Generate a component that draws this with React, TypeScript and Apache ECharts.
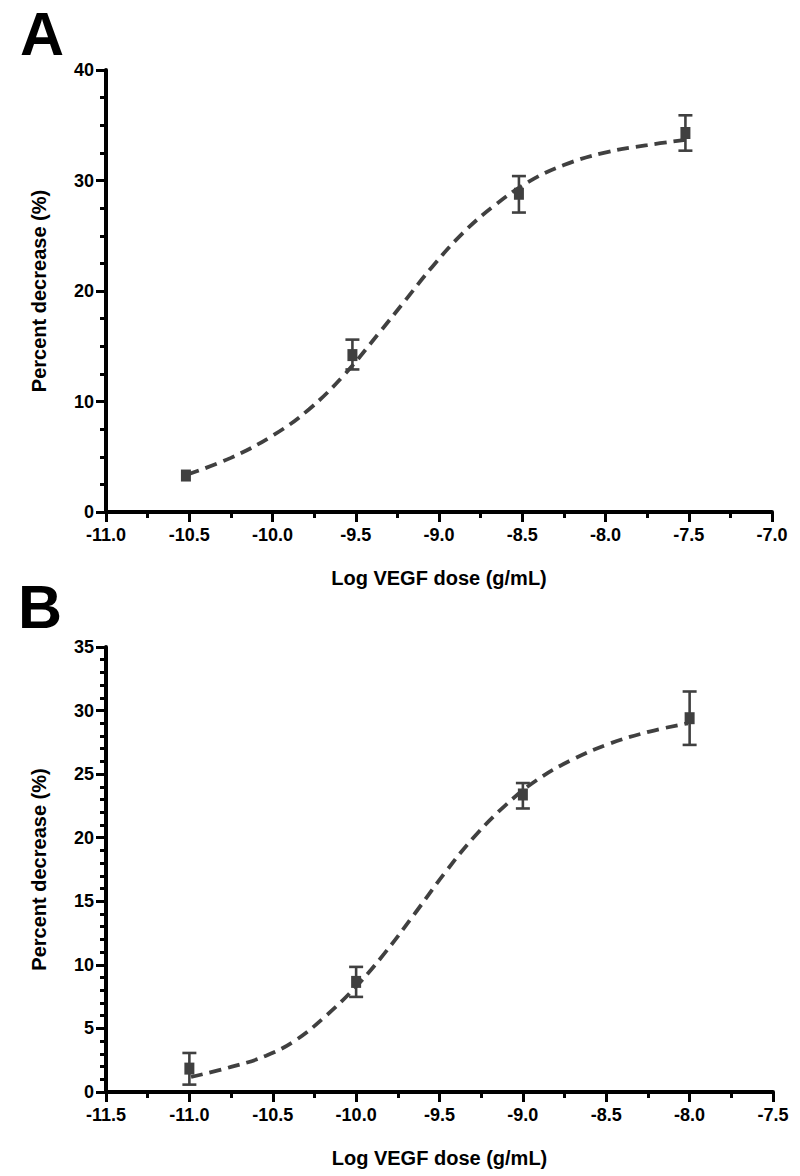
import React, { useEffect, useRef } from "react";
import * as echarts from "echarts";

// Panel A data
const A_X = [-10.52, -9.52, -8.52, -7.52];
const A_MEAN = [3.3, 14.2, 28.8, 34.3];
const A_LOW = [null, 12.9, 27.1, 32.7];
const A_HIGH = [null, 15.6, 30.4, 35.9];
const A_CURVE_X = [-10.51, -10.25, -9.99, -9.78, -9.57, -9.36, -9.2, -9.04, -8.86, -8.67, -8.46, -8.25, -8.01, -7.75, -7.51];
const A_CURVE_Y = [3.4, 4.9, 7.0, 9.3, 12.4, 16.2, 19.2, 22.2, 25.2, 27.7, 29.9, 31.4, 32.5, 33.2, 33.7];

// Panel B data
const B_X = [-11.0, -10.0, -9.0, -8.0];
const B_MEAN = [1.84, 8.66, 23.4, 29.4];
const B_LOW = [0.58, 7.48, 22.3, 27.3];
const B_HIGH = [3.07, 9.84, 24.3, 31.5];
const B_CURVE_X = [-10.99, -10.75, -10.54, -10.36, -10.18, -10.0, -9.83, -9.65, -9.47, -9.29, -9.1, -8.92, -8.71, -8.48, -8.24, -8.01];
const B_CURVE_Y = [1.18, 1.97, 2.85, 4.1, 6.0, 8.3, 10.9, 14.0, 17.2, 20.1, 22.6, 24.5, 26.1, 27.4, 28.35, 29.0];

const X_NAME = "Log VEGF dose (g/mL)";
const Y_NAME = "Percent decrease (%)";
const PANEL_LABELS = ["A", "B"];

const FONT = "'Liberation Sans', Arial, sans-serif";
const INK = "#404040";

function errorRenderer(params: any, api: any) {
  const x = api.value(0);
  const lo = api.value(1);
  const hi = api.value(2);
  const pLo = api.coord([x, lo]);
  const pHi = api.coord([x, hi]);
  const half = 7;
  const style = { stroke: INK, lineWidth: 2.6, fill: "none" };
  return {
    type: "group",
    children: [
      { type: "line", shape: { x1: pLo[0], y1: pLo[1], x2: pHi[0], y2: pHi[1] }, style },
      { type: "line", shape: { x1: pLo[0] - half, y1: pLo[1], x2: pLo[0] + half, y2: pLo[1] }, style },
      { type: "line", shape: { x1: pHi[0] - half, y1: pHi[1], x2: pHi[0] + half, y2: pHi[1] }, style },
    ],
  };
}

function xAxisCfg(gridIndex: number, min: number, max: number) {
  return {
    type: "value",
    gridIndex,
    min,
    max,
    interval: 0.5,
    name: X_NAME,
    nameLocation: "middle",
    nameGap: 56,
    nameTextStyle: { fontFamily: FONT, fontWeight: "bold", fontSize: 20, color: "#000" },
    axisLine: { show: true, onZero: false, lineStyle: { color: "#000", width: 4 } },
    axisTick: { show: true, length: 10, lineStyle: { color: "#000", width: 3 } },
    minorTick: { show: true, splitNumber: 2, length: 6, lineStyle: { color: "#000", width: 3 } },
    splitLine: { show: false },
    minorSplitLine: { show: false },
    axisLabel: {
      fontFamily: FONT,
      fontWeight: "bold",
      fontSize: 18,
      color: "#000",
      margin: 14,
      formatter: (v: number) => v.toFixed(1),
    },
  };
}

function yAxisCfg(gridIndex: number, max: number, interval: number, minorSplit: number) {
  return {
    type: "value",
    gridIndex,
    min: 0,
    max,
    interval,
    name: Y_NAME,
    nameLocation: "middle",
    nameGap: 57,
    nameTextStyle: { fontFamily: FONT, fontWeight: "bold", fontSize: 20, color: "#000" },
    axisLine: { show: true, onZero: false, lineStyle: { color: "#000", width: 4 } },
    axisTick: { show: true, length: 10, lineStyle: { color: "#000", width: 3 } },
    minorTick: { show: true, splitNumber: minorSplit, length: 6, lineStyle: { color: "#000", width: 3 } },
    splitLine: { show: false },
    minorSplitLine: { show: false },
    axisLabel: {
      fontFamily: FONT,
      fontWeight: "bold",
      fontSize: 18,
      color: "#000",
      margin: 12,
    },
  };
}

function zip2(a: number[], b: number[]) {
  return a.map((v, i) => [v, b[i]]);
}

function errData(xs: number[], lo: (number | null)[], hi: (number | null)[]) {
  const out: number[][] = [];
  xs.forEach((x, i) => {
    if (lo[i] != null && hi[i] != null) out.push([x, lo[i] as number, hi[i] as number]);
  });
  return out;
}

export default function App() {
  const ref = useRef<HTMLDivElement>(null);
  useEffect(() => {
    document.body.style.margin = "0";
    const chart = echarts.init(ref.current!, null, { renderer: "svg" });
    const curveStyle = { color: INK, width: 3.8, type: [12, 7] as any };
    const markerStyle = { color: INK, opacity: 1 };
    chart.setOption({
      animation: false,
      backgroundColor: "#fff",
      grid: [
        { left: 106, right: 28, top: 70, height: 442 },
        { left: 106, right: 27, top: 647, height: 445 },
      ],
      xAxis: [xAxisCfg(0, -11, -7), xAxisCfg(1, -11.5, -7.5)],
      yAxis: [yAxisCfg(0, 40, 10, 4), yAxisCfg(1, 35, 5, 5)],
      graphic: [
        {
          type: "text",
          left: 20,
          top: 3,
          style: { text: PANEL_LABELS[0], font: `bold 61px ${FONT}`, fill: "#000" },
        },
        {
          type: "text",
          left: 18,
          top: 576,
          style: { text: PANEL_LABELS[1], font: `bold 61px ${FONT}`, fill: "#000" },
        },
      ],
      series: [
        {
          type: "line",
          xAxisIndex: 0,
          yAxisIndex: 0,
          data: zip2(A_CURVE_X, A_CURVE_Y),
          smooth: 0.4,
          showSymbol: false,
          lineStyle: curveStyle,
          z: 2,
        },
        {
          type: "custom",
          xAxisIndex: 0,
          yAxisIndex: 0,
          data: errData(A_X, A_LOW, A_HIGH),
          renderItem: errorRenderer,
          z: 3,
        },
        {
          type: "scatter",
          xAxisIndex: 0,
          yAxisIndex: 0,
          data: zip2(A_X, A_MEAN),
          symbol: "rect",
          symbolSize: [10, 12],
          itemStyle: markerStyle,
          z: 4,
        },
        {
          type: "line",
          xAxisIndex: 1,
          yAxisIndex: 1,
          data: zip2(B_CURVE_X, B_CURVE_Y),
          smooth: 0.4,
          showSymbol: false,
          lineStyle: curveStyle,
          z: 2,
        },
        {
          type: "custom",
          xAxisIndex: 1,
          yAxisIndex: 1,
          data: errData(B_X, B_LOW, B_HIGH),
          renderItem: errorRenderer,
          z: 3,
        },
        {
          type: "scatter",
          xAxisIndex: 1,
          yAxisIndex: 1,
          data: zip2(B_X, B_MEAN),
          symbol: "rect",
          symbolSize: [10, 12],
          itemStyle: markerStyle,
          z: 4,
        },
      ],
    });
    return () => chart.dispose();
  }, []);
  return <div ref={ref} style={{ width: 800, height: 1176 }} />;
}
